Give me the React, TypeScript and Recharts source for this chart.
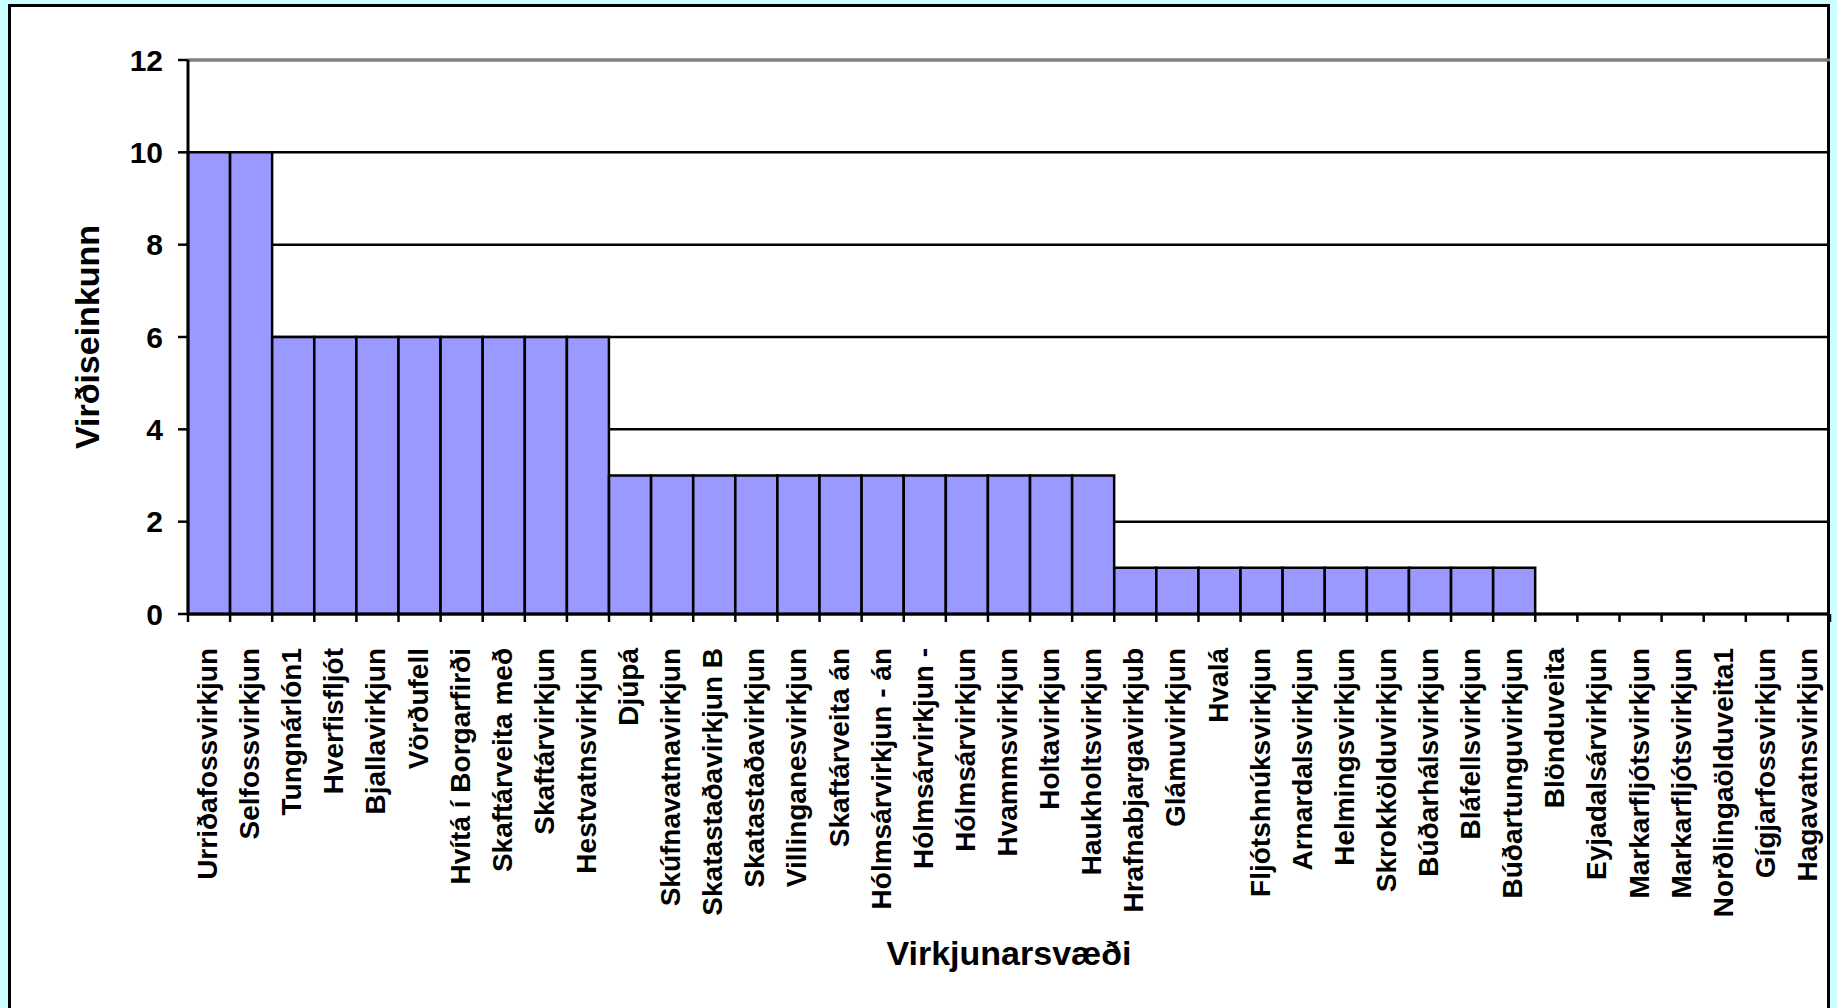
import React from "react";
import { BarChart, Bar, XAxis, YAxis, CartesianGrid, ReferenceLine, Label } from "recharts";

const categories = [
  "Urriðafossvirkjun",
  "Selfossvirkjun",
  "Tungnárlón1",
  "Hverfisfljót",
  "Bjallavirkjun",
  "Vörðufell",
  "Hvítá í Borgarfirði",
  "Skaftárveita með",
  "Skaftárvirkjun",
  "Hestvatnsvirkjun",
  "Djúpá",
  "Skúfnavatnavirkjun",
  "Skatastaðavirkjun B",
  "Skatastaðavirkjun",
  "Villinganesvirkjun",
  "Skaftárveita án",
  "Hólmsárvirkjun - án",
  "Hólmsárvirkjun -",
  "Hólmsárvirkjun",
  "Hvammsvirkjun",
  "Holtavirkjun",
  "Haukholtsvirkjun",
  "Hrafnabjargavirkjub",
  "Glámuvirkjun",
  "Hvalá",
  "Fljótshnúksvirkjun",
  "Arnardalsvirkjun",
  "Helmingsvirkjun",
  "Skrokkölduvirkjun",
  "Búðarhálsvirkjun",
  "Bláfellsvirkjun",
  "Búðartunguvirkjun",
  "Blönduveita",
  "Eyjadalsárvirkjun",
  "Markarfljótsvirkjun",
  "Markarfljótsvirkjun",
  "Norðlingaölduveita1",
  "Gígjarfossvirkjun",
  "Hagavatnsvirkjun",
];

const scores = [
  10, 10, 6, 6, 6, 6, 6, 6, 6, 6,
  3, 3, 3, 3, 3, 3, 3, 3, 3, 3, 3, 3,
  1, 1, 1, 1, 1, 1, 1, 1, 1, 1,
  0, 0, 0, 0, 0, 0, 0,
];

const yTicks = [0, 2, 4, 6, 8, 10, 12];

const data = categories.map((name, i) => ({ key: i, name, score: scores[i] }));

const FONT = "'Liberation Sans', Arial, sans-serif";
const W = 1837;
const H = 1008;
const PLOT_LEFT = 188;
const PLOT_RIGHT = 1830;
const PLOT_TOP = 60;
const AXIS_Y = 614;
const band = (PLOT_RIGHT - PLOT_LEFT) / categories.length;

function CategoryTick(props: any) {
  const { x, y, payload, index } = props;
  const label = categories[payload.value] ?? "";
  const left = x - band / 2;
  const right = x + band / 2;
  return (
    <g>
      <line x1={left} y1={y - 8} x2={left} y2={y} stroke="#000" strokeWidth={2.5} />
      {index === categories.length - 1 && (
        <line x1={right} y1={y - 8} x2={right} y2={y} stroke="#000" strokeWidth={2.5} />
      )}
      <text
        transform={`translate(${x + 8},${y + 26}) rotate(-90)`}
        textAnchor="end"
        fontSize={28}
        fontWeight="bold"
        fontFamily={FONT}
        fill="#000"
      >
        {label}
      </text>
    </g>
  );
}

export default function App() {
  return (
    <div style={{ position: "absolute", left: 0, top: 0, width: W, height: H, background: "#ccffff", overflow: "hidden" }}>
      <div
        style={{
          position: "absolute",
          left: 8,
          top: 4,
          width: 1822,
          height: 1020,
          background: "#fff",
          border: "3px solid #000",
          boxSizing: "border-box",
        }}
      />
      <div style={{ position: "absolute", left: 0, top: 0 }}>
        <BarChart
          width={W}
          height={H}
          data={data}
          margin={{ top: PLOT_TOP, right: W - PLOT_RIGHT, left: 0, bottom: 0 }}
          barCategoryGap={0}
          barGap={0}
        >
          <CartesianGrid vertical={false} stroke="#000" strokeWidth={2.5} />
          <XAxis
            dataKey="key"
            interval={0}
            height={H - AXIS_Y}
            axisLine={{ stroke: "#000", strokeWidth: 3 }}
            tickLine={false}
            tickSize={8}
            tickMargin={0}
            tick={<CategoryTick />}
          >
            <Label
              content={() => (
                <text
                  x={(PLOT_LEFT + PLOT_RIGHT) / 2}
                  y={965}
                  textAnchor="middle"
                  fontSize={34}
                  fontWeight="bold"
                  fontFamily={FONT}
                  fill="#000"
                >
                  Virkjunarsvæði
                </text>
              )}
            />
          </XAxis>
          <YAxis
            width={PLOT_LEFT}
            domain={[0, 12]}
            ticks={yTicks}
            interval={0}
            axisLine={{ stroke: "#000", strokeWidth: 3 }}
            tickLine={{ stroke: "#000", strokeWidth: 2.5 }}
            tickSize={10}
            tickMargin={15}
            tick={{ fontSize: 30, fontWeight: "bold", fontFamily: FONT, fill: "#000" }}
          >
            <Label
              content={() => (
                <text
                  transform={`translate(99,${(PLOT_TOP + AXIS_Y) / 2}) rotate(-90)`}
                  textAnchor="middle"
                  fontSize={34}
                  fontWeight="bold"
                  fontFamily={FONT}
                  fill="#000"
                >
                  Virðiseinkunn
                </text>
              )}
            />
          </YAxis>
          <ReferenceLine y={12} stroke="#808080" strokeWidth={3} />
          <Bar dataKey="score" fill="#9999ff" stroke="#000" strokeWidth={2.5} isAnimationActive={false} />
        </BarChart>
      </div>
    </div>
  );
}
